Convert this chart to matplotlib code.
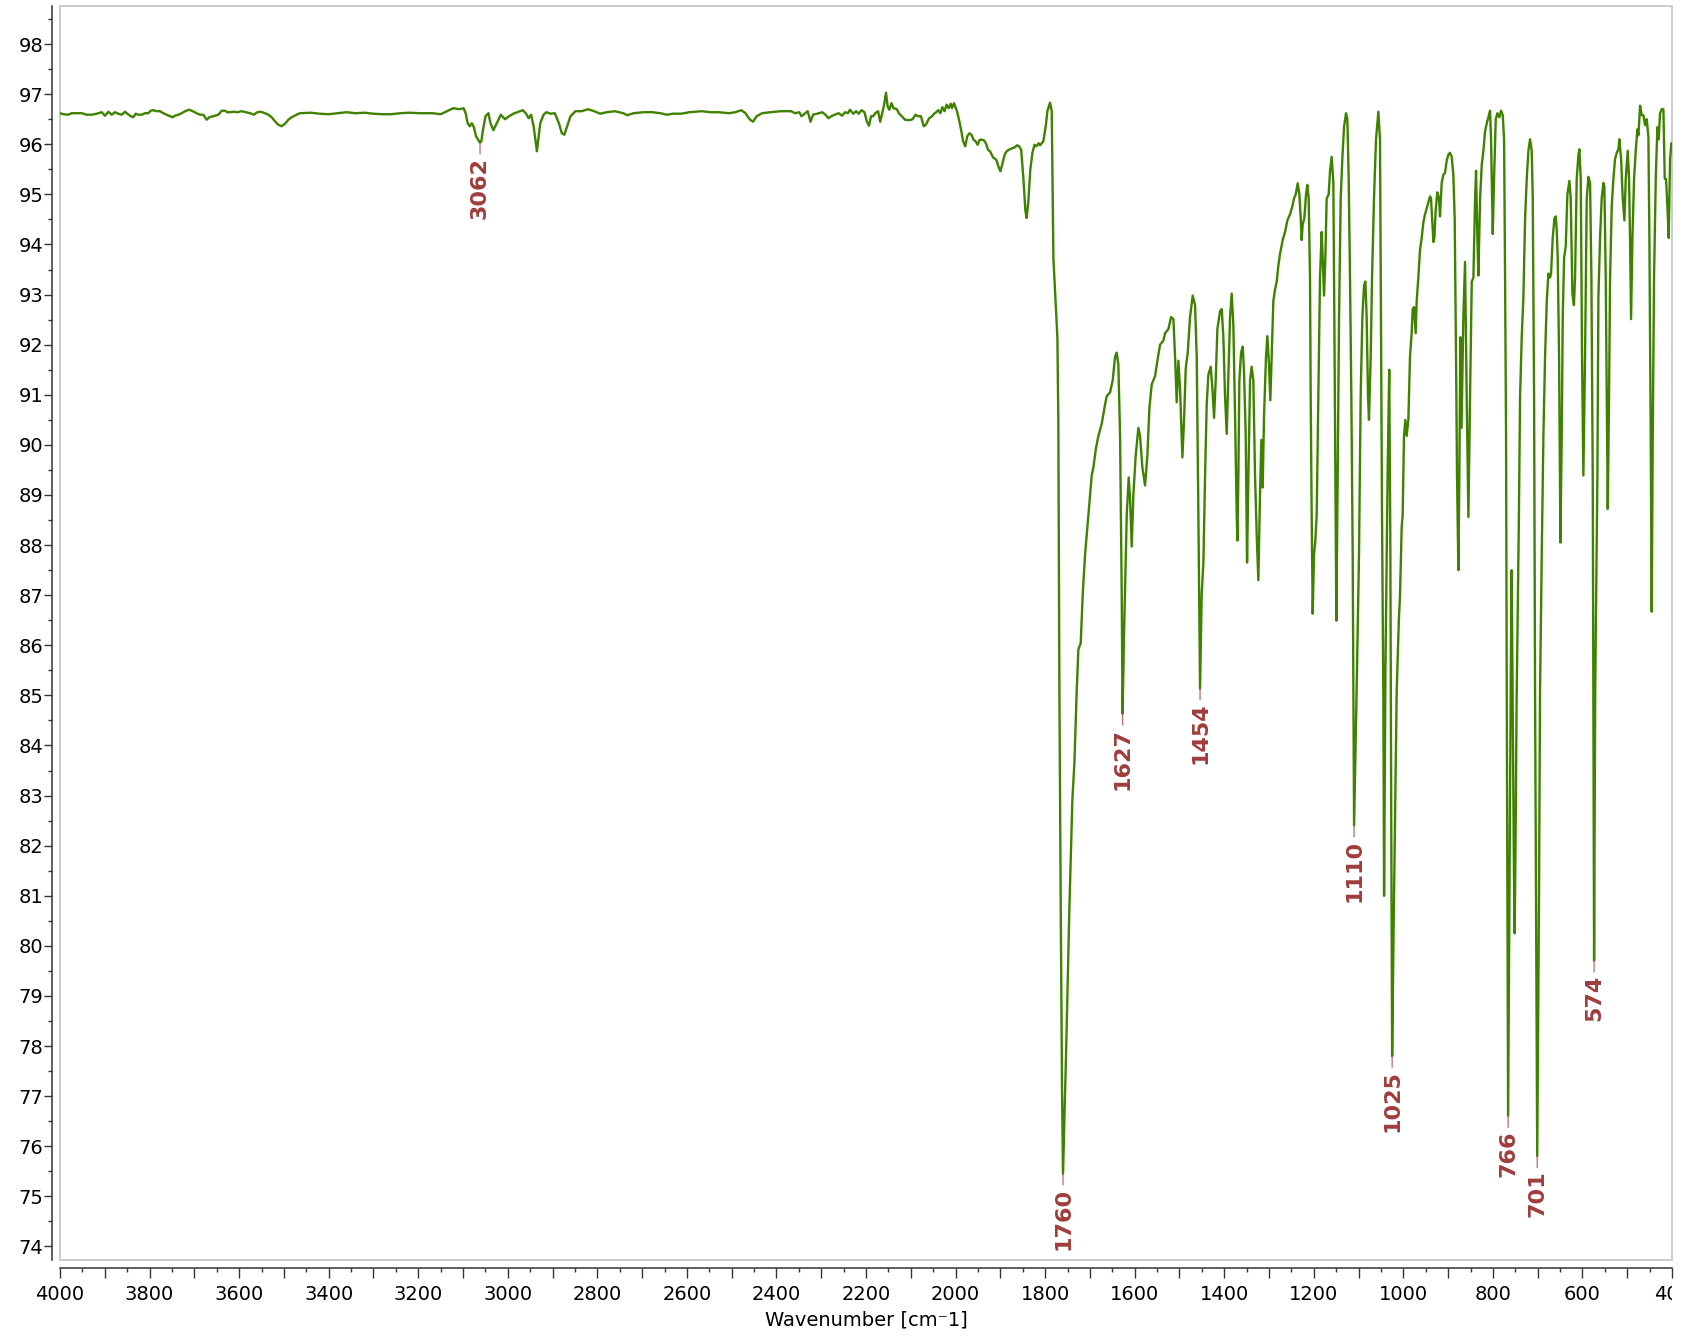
import numpy as np
import matplotlib
matplotlib.use("Agg")
import matplotlib.pyplot as plt
from matplotlib.patches import Rectangle
from matplotlib.ticker import MultipleLocator, FuncFormatter
from matplotlib.transforms import Bbox, TransformedBbox

# (wavenumber cm-1, transmittance %)
band_4000_3200 = [
    (4000, 96.62), (3992.6, 96.60), (3981.4, 96.59), (3974, 96.62), (3962.8, 96.62),
    (3951.6, 96.62), (3940.4, 96.59), (3929.3, 96.59), (3918.1, 96.61), (3906.9, 96.64),
    (3899.5, 96.57), (3892, 96.65), (3884.6, 96.59), (3877.2, 96.64), (3869.7, 96.61),
    (3862.3, 96.59), (3854.8, 96.65), (3849.6, 96.61), (3842.2, 96.56), (3836.2, 96.54),
    (3831, 96.61), (3825.1, 96.59), (3817.6, 96.59), (3810.2, 96.62), (3802.7, 96.62),
    (3797.5, 96.67), (3791.5, 96.68), (3784.1, 96.66), (3776.6, 96.66), (3769.2, 96.62),
    (3761.8, 96.59), (3754.3, 96.56), (3748.4, 96.54), (3743.1, 96.57), (3735.7, 96.59),
    (3728.3, 96.62), (3720.8, 96.66), (3711.2, 96.69), (3703.7, 96.66), (3694.8, 96.62),
    (3687.4, 96.59), (3679.9, 96.59), (3676.2, 96.54), (3672.5, 96.49), (3666.5, 96.54),
    (3657.6, 96.56), (3646.4, 96.59), (3639, 96.67), (3631.5, 96.67), (3626.3, 96.64),
    (3620.4, 96.64), (3612.9, 96.65), (3604, 96.64), (3594.3, 96.66), (3585.4, 96.64),
    (3575.8, 96.62), (3566.9, 96.59), (3559.4, 96.64), (3552, 96.65), (3542.2, 96.62),
    (3534.8, 96.59), (3527.4, 96.54), (3519.9, 96.46), (3512.5, 96.39), (3505, 96.36),
    (3497.5, 96.41), (3490.1, 96.49), (3482.6, 96.54), (3471.5, 96.59), (3464, 96.62),
    (3440, 96.63), (3420, 96.61), (3400, 96.60), (3380, 96.62), (3360, 96.64),
    (3340, 96.62), (3320, 96.63), (3300, 96.61), (3280, 96.60), (3260, 96.60),
    (3240, 96.62), (3220, 96.63), (3200, 96.62),
]

band_3200_1815 = [
    (3196, 96.62), (3168.2, 96.62), (3149.7, 96.60), (3135.8, 96.66), (3121.9, 96.72),
    (3108, 96.70), (3098.8, 96.72), (3094.1, 96.62), (3089.5, 96.42), (3084.9, 96.36),
    (3080.3, 96.42), (3075.6, 96.34), (3071, 96.16), (3062, 96.03), (3059, 96.06),
    (3055.3, 96.29), (3049.7, 96.56), (3043.2, 96.62), (3038.6, 96.42), (3032.1, 96.28),
    (3024.7, 96.42), (3015.5, 96.59), (3006.2, 96.50), (2996.9, 96.56), (2987.7, 96.61),
    (2978.4, 96.64), (2966.4, 96.68), (2959.9, 96.62), (2953.4, 96.52), (2947.9, 96.59),
    (2942.3, 96.36), (2934.9, 95.86), (2927.5, 96.42), (2920.1, 96.59), (2913.6, 96.64),
    (2904.4, 96.61), (2895.1, 96.62), (2885.8, 96.42), (2879.3, 96.22), (2873.8, 96.19),
    (2867.3, 96.36), (2859.9, 96.56), (2848.8, 96.66), (2834.9, 96.66), (2821, 96.70),
    (2807.1, 96.66), (2793.3, 96.61), (2779.4, 96.64), (2760.9, 96.66), (2742.3, 96.62),
    (2733.1, 96.58), (2719.2, 96.62), (2696, 96.64), (2677.5, 96.64), (2659, 96.62),
    (2645.1, 96.59), (2631.2, 96.61), (2612.7, 96.61), (2594.2, 96.64), (2566.4, 96.66),
    (2547.9, 96.64), (2529.3, 96.64), (2506.2, 96.62), (2492.3, 96.64), (2478.4, 96.68),
    (2469.2, 96.62), (2459.9, 96.50), (2452.5, 96.45), (2444.2, 96.56), (2432.1, 96.62),
    (2413.6, 96.64), (2390.5, 96.66), (2367.3, 96.66), (2358.1, 96.62), (2348.8, 96.64),
    (2344.2, 96.56), (2339.6, 96.59), (2330.3, 96.66), (2323.8, 96.45), (2318.3, 96.59),
    (2309, 96.61), (2297.9, 96.64), (2290.5, 96.59), (2284, 96.52), (2277.5, 96.56),
    (2270.1, 96.59), (2260.8, 96.62), (2253.4, 96.57), (2246.9, 96.64), (2240.4, 96.62),
    (2235.9, 96.69), (2228.4, 96.61), (2222, 96.66), (2216.4, 96.61), (2210, 96.68),
    (2203.5, 96.64), (2197.9, 96.45), (2193.3, 96.37), (2188.7, 96.56), (2184, 96.56),
    (2179.4, 96.62), (2173, 96.66), (2168.3, 96.45), (2163.7, 96.62), (2159, 96.82),
    (2155.3, 97.03), (2151.6, 96.75), (2147.9, 96.69), (2143.2, 96.82), (2138.6, 96.72),
    (2131.2, 96.70), (2126.6, 96.62), (2120.1, 96.56), (2112.8, 96.49), (2103.4, 96.48),
    (2096, 96.50), (2089.5, 96.59), (2084.9, 96.56), (2077.4, 96.56), (2071, 96.36),
    (2066.4, 96.39), (2058.9, 96.52), (2052.5, 96.56), (2047.9, 96.61), (2043.2, 96.64),
    (2038.6, 96.68), (2034, 96.62), (2029.4, 96.74), (2024.7, 96.66), (2020.1, 96.79),
    (2015.5, 96.72), (2010.8, 96.81), (2008, 96.72), (2003.4, 96.82), (1996.9, 96.66),
    (1992.3, 96.49), (1987.7, 96.29), (1983.1, 96.06), (1978.4, 95.96), (1973.8, 96.16),
    (1969.2, 96.22), (1964.6, 96.19), (1959.9, 96.09), (1955.3, 96.06), (1950.7, 95.99),
    (1946, 96.09), (1941.4, 96.09), (1936.8, 96.08), (1932.2, 96.02), (1927.5, 95.89),
    (1922.9, 95.86), (1916.4, 95.74), (1909, 95.69), (1904.4, 95.56), (1899.8, 95.46),
    (1895.1, 95.62), (1890.5, 95.79), (1885.9, 95.86), (1881.2, 95.89), (1873.8, 95.92),
    (1867.3, 95.94), (1862.7, 95.98), (1858, 95.96), (1853.5, 95.89), (1848.8, 95.36),
    (1844.2, 94.69), (1841.4, 94.53), (1837.7, 94.82), (1833.1, 95.49), (1828.5, 95.82),
    (1823.8, 95.99), (1819.2, 95.96), (1814.6, 96.02),
]

band_1815_1000 = [
    (1811.3, 95.98), (1803.9, 96.06), (1798, 96.40), (1794.9, 96.66), (1789, 96.83),
    (1785.2, 96.66), (1781.5, 93.73), (1776.3, 92.79), (1772.6, 92.15), (1770.5, 90.5),
    (1768.1, 85.1), (1765.1, 80.75), (1762.2, 77.12), (1760, 75.45), (1753.2, 77.85),
    (1745.8, 80.75), (1739.1, 82.93), (1734.6, 83.65), (1729.4, 85.1), (1725.7, 85.92),
    (1720.5, 86.04), (1716, 87.02), (1710.8, 87.81), (1703.4, 88.6), (1695.9, 89.39),
    (1692.2, 89.55), (1686.3, 89.94), (1681, 90.18), (1673.6, 90.42), (1666.1, 90.81),
    (1662.4, 90.97), (1654.9, 91.05), (1649, 91.29), (1643.8, 91.76), (1640.1, 91.84),
    (1636.4, 91.6), (1632.6, 90.18), (1628.9, 87.02), (1627, 84.63), (1623.7, 86.23),
    (1617.7, 88.6), (1613.3, 89.35), (1610.3, 88.92), (1606.6, 87.97), (1602.9, 89.0),
    (1597.7, 89.79), (1591.7, 90.34), (1588, 90.18), (1582.8, 89.55), (1576.8, 89.19),
    (1571.6, 89.79), (1567.1, 90.73), (1561.9, 91.21), (1554.5, 91.37), (1549.3, 91.68),
    (1543.3, 92.0), (1535.9, 92.08), (1532.1, 92.23), (1524.7, 92.31), (1518.7, 92.55),
    (1513.5, 92.51), (1509.8, 91.76), (1506.1, 90.85), (1502.4, 91.68), (1498.7, 91.13),
    (1493.4, 89.75), (1489.7, 90.5), (1486, 91.52), (1481.5, 91.84), (1476.3, 92.55),
    (1470.4, 92.98), (1465.2, 92.79), (1461.4, 91.76), (1457.7, 88.6), (1454, 85.13),
    (1450.3, 87.02), (1446.5, 87.65), (1442.8, 89.39), (1439.1, 90.81), (1435.4, 91.4),
    (1430.2, 91.56), (1426.4, 91.13), (1422.7, 90.54), (1419, 91.29), (1415.3, 92.31),
    (1409.3, 92.67), (1405.6, 92.71), (1401.9, 92.15), (1398.2, 90.97), (1394.4, 90.22),
    (1390.7, 91.37), (1387, 92.55), (1383.3, 93.02), (1379.6, 92.39), (1375.8, 90.58),
    (1372.1, 88.6), (1370.6, 88.09), (1368.4, 89.39), (1366.2, 91.29), (1362.4, 91.84),
    (1358.7, 91.96), (1355.7, 91.44), (1352, 90.18), (1349, 87.65), (1346, 89.39),
    (1342.3, 91.29), (1338.7, 91.56), (1335, 91.29), (1331.2, 89.39), (1327.5, 88.21),
    (1323.8, 87.3), (1320.1, 89.0), (1317.1, 90.1), (1314.1, 89.15), (1311.1, 90.58),
    (1306.7, 91.76), (1303.7, 92.17), (1300, 91.6), (1297, 90.89), (1294, 91.76),
    (1290.3, 92.87), (1286.6, 93.1), (1282.8, 93.26), (1279.1, 93.58), (1275.4, 93.81),
    (1269.4, 94.09), (1264.2, 94.25), (1259, 94.48), (1253.1, 94.6), (1247.9, 94.76),
    (1244.1, 94.92), (1240.4, 95.0), (1235.9, 95.22), (1232.2, 95.0), (1229.2, 94.52),
    (1227, 94.09), (1224.8, 94.4), (1221.1, 94.52), (1217.3, 95.0), (1214.4, 95.19),
    (1211.4, 94.92), (1208.4, 93.34), (1206.9, 90.97), (1204.7, 88.6), (1202.4, 86.63),
    (1199.5, 87.81), (1196.5, 88.09), (1193.5, 88.6), (1189.8, 90.97), (1186.1, 93.34),
    (1182.4, 94.25), (1180.1, 93.73), (1177.1, 92.98), (1174.2, 93.73), (1171.2, 94.92),
    (1166.7, 95.0), (1163.7, 95.47), (1160, 95.75), (1156.3, 95.23), (1154.1, 92.55),
    (1151.8, 89.39), (1149.6, 86.49), (1146.6, 89.39), (1143.6, 92.55), (1139.9, 94.92),
    (1136.2, 95.71), (1132.5, 96.34), (1128, 96.62), (1125, 96.5), (1122, 95.31),
    (1119.1, 93.34), (1116.1, 90.97), (1113.1, 87.81), (1111.5, 85.0), (1110, 82.4),
    (1104.5, 85.0), (1099, 87.81), (1095.3, 90.97), (1091.5, 92.55), (1087.8, 93.18),
    (1084.8, 93.26), (1081.9, 92.55), (1078.9, 90.97), (1076.7, 90.5), (1072.9, 91.76),
    (1069.9, 93.34), (1065.5, 94.92), (1061, 96.1), (1055.8, 96.65), (1052.1, 96.1),
    (1049.9, 92.55), (1047.6, 88.6), (1044.6, 84.9), (1043, 81.0), (1040, 85.5),
    (1035, 89.5), (1031.5, 91.5), (1029, 88.0), (1027, 82.5), (1025, 77.8),
    (1021.5, 80.5), (1018.5, 82.5), (1014.8, 85.1), (1010, 86.5), (1007.4, 87.0),
    (1003.7, 88.36), (1001.5, 88.6),
]

band_1000_400 = [
    (998.5, 90.18), (995.5, 90.5), (992.5, 90.18), (988.8, 90.5), (985.1, 91.76),
    (981.4, 92.23), (979.1, 92.71), (976.2, 92.75), (972.4, 92.23), (970.2, 92.87),
    (966.5, 93.34), (962.8, 93.89), (959, 94.13), (955.3, 94.44), (951.6, 94.6),
    (947.9, 94.72), (944.1, 94.84), (940.4, 94.96), (938.2, 94.92), (935.2, 94.44),
    (932.8, 94.05), (930.7, 94.13), (927.8, 94.68), (924.1, 95.04), (920.3, 94.92),
    (918.1, 94.56), (914.4, 95.23), (910.6, 95.39), (906.9, 95.43), (903.2, 95.67),
    (899.5, 95.79), (895.8, 95.83), (892, 95.75), (888.3, 95.39), (885.3, 94.52),
    (882.3, 91.76), (880.1, 89.39), (877.1, 87.5), (874.9, 89.39), (872.7, 92.15),
    (870, 90.34), (866, 92.55), (862.2, 93.65), (858.5, 90.97), (854.7, 88.56),
    (851, 90.97), (847.2, 93.26), (843.5, 93.34), (839.8, 94.92), (837.6, 95.47),
    (834.6, 94.13), (832.4, 93.38), (828.6, 94.92), (824.9, 95.59), (821.2, 95.87),
    (817.5, 96.26), (813.7, 96.42), (810, 96.54), (806.3, 96.67), (804.1, 96.1),
    (800.3, 94.21), (797.4, 95.31), (793.6, 96.5), (789.9, 96.62), (785.5, 96.54),
    (781.7, 96.67), (778, 96.58), (775, 96.1), (772.8, 93.34), (770.6, 90.18),
    (769, 85.0), (766, 76.6), (763, 81.0), (760, 85.5), (758, 87.5),
    (755.5, 84.5), (753, 81.5), (751.3, 80.25), (749, 82.5), (747, 84.9),
    (742, 88.5), (739.3, 90.97), (735.6, 92.15), (731.9, 92.94), (728.1, 94.52),
    (724.4, 95.31), (720.7, 95.87), (717, 96.1), (713.3, 95.87), (711, 94.92),
    (708, 90.97), (705.8, 85.0), (701, 75.8), (697, 81.0), (694.7, 85.1),
    (690.9, 87.81), (687.2, 90.18), (683.5, 91.76), (679.7, 92.87), (676, 93.42),
    (672.3, 93.34), (670.1, 93.42), (666.4, 94.13), (662.6, 94.52), (659.6, 94.56),
    (657.4, 94.29), (655.2, 93.73), (652.2, 91.76), (649.2, 88.05), (646.3, 90.18),
    (644, 92.55), (641, 93.73), (637.3, 93.97), (633.6, 95.0), (629.1, 95.27),
    (626.2, 94.92), (622.4, 93.02), (619, 92.79), (616.5, 93.34), (612.8, 95.31),
    (609, 95.79), (606.8, 95.9), (603.8, 95.31), (600.9, 91.76), (597.9, 89.39),
    (594.2, 91.76), (590.4, 94.92), (586.7, 95.35), (583, 95.23), (580, 93.34),
    (577, 89.39), (575.5, 84.5), (574, 79.7), (571.5, 85.1), (566.6, 89.39),
    (564.4, 92.94), (560.7, 94.13), (557, 94.92), (553.2, 95.23), (551, 95.15),
    (548, 93.34), (545.8, 90.97), (543.5, 88.72), (540.6, 90.97), (538.3, 93.34),
    (534.6, 94.76), (530.9, 95.31), (527.1, 95.71), (523.4, 95.83), (519.7, 95.9),
    (517.5, 96.1), (513.7, 95.71), (510, 94.92), (506.3, 94.48), (503.3, 95.31),
    (498.9, 95.87), (495.9, 95.31), (493.7, 94.13), (491.4, 92.51), (488.4, 94.13),
    (484.7, 95.31), (481, 95.87), (477.3, 96.3), (475, 96.18), (471.3, 96.77),
    (467.6, 96.58), (463.9, 96.58), (460.1, 96.38), (456.4, 96.5), (452.7, 96.14),
    (450.5, 94.13), (447.5, 90.18), (445.3, 86.67), (443, 90.18), (440.1, 93.34),
    (436.3, 95.31), (432.6, 96.34), (429.6, 96.1), (426.7, 96.62), (422.9, 96.7),
    (419.2, 96.7), (416.2, 95.31), (413.3, 95.31), (410.3, 94.76), (407.3, 94.13),
    (404.3, 95.71), (401.3, 96.02), (399.1, 95.95),
]

peak_labels = [3062, 1760, 1627, 1454, 1110, 1025, 766, 701, 574]

spec = np.array(band_4000_3200 + band_3200_1815 + band_1815_1000 + band_1000_400)
wn = spec[:, 0]
tr = spec[:, 1]

fig = plt.figure(figsize=(16.95, 13.39), dpi=100)
ax_l, ax_r, ax_b, ax_t = 60 / 1695, 1672 / 1695, 1 - 1260 / 1339, 1 - 6 / 1339
ax = fig.add_axes([ax_l, ax_b, ax_r - ax_l, ax_t - ax_b])

ax.plot(wn, tr, color="#3f8200", lw=1.7)

ax.set_xlim(4000, 400)
ax.set_ylim(73.73, 98.76)

# peak labels
for p in peak_labels:
    t = np.interp(p, wn[::-1], tr[::-1])
    ax.annotate(str(p), xy=(p, t), xytext=(0, -10), textcoords="offset points",
                rotation=90, ha="center", va="top", fontsize=16, fontweight="bold",
                color="#a03c3c",
                arrowprops=dict(arrowstyle="-", color="#b86a6a", lw=0.9,
                                shrinkA=0, shrinkB=0))

# light frame around the plot area, detached dark axes
ax.add_patch(Rectangle((0, 0), 1, 1, transform=ax.transAxes, fill=False,
                       ec="#c8c8c8", lw=1.3, clip_on=False, zorder=0))
for s in ["top", "right"]:
    ax.spines[s].set_visible(False)
for s in ["left", "bottom"]:
    ax.spines[s].set_position(("outward", 5.8))
    ax.spines[s].set_color("#333333")
    ax.spines[s].set_linewidth(1.1)

ax.xaxis.set_major_locator(MultipleLocator(100))
ax.xaxis.set_minor_locator(MultipleLocator(50))
ax.xaxis.set_major_formatter(FuncFormatter(
    lambda v, pos: f"{v:.0f}" if round(v) % 200 == 0 else ""))
ax.yaxis.set_major_locator(MultipleLocator(1))
ax.yaxis.set_minor_locator(MultipleLocator(0.5))

ax.tick_params(axis="x", which="major", length=7, width=1.0, color="#333333",
               labelsize=14, pad=5)
ax.tick_params(axis="x", which="minor", length=3, width=1.0, color="#333333")
ax.tick_params(axis="y", which="major", length=5.8, width=1.0, color="#333333",
               labelsize=14, pad=0.5)
ax.tick_params(axis="y", which="minor", length=3, width=1.0, color="#333333")

ax.set_xlabel("Wavenumber [cm\u207b1]", fontsize=14, labelpad=5)

fig.canvas.draw()
clip = TransformedBbox(Bbox([[0, 0], [ax_r, 1]]), fig.transFigure)
for lbl in ax.get_xticklabels():
    lbl.set_clip_box(clip)
    lbl.set_clip_on(True)

fig.savefig("out.png", dpi=100)
